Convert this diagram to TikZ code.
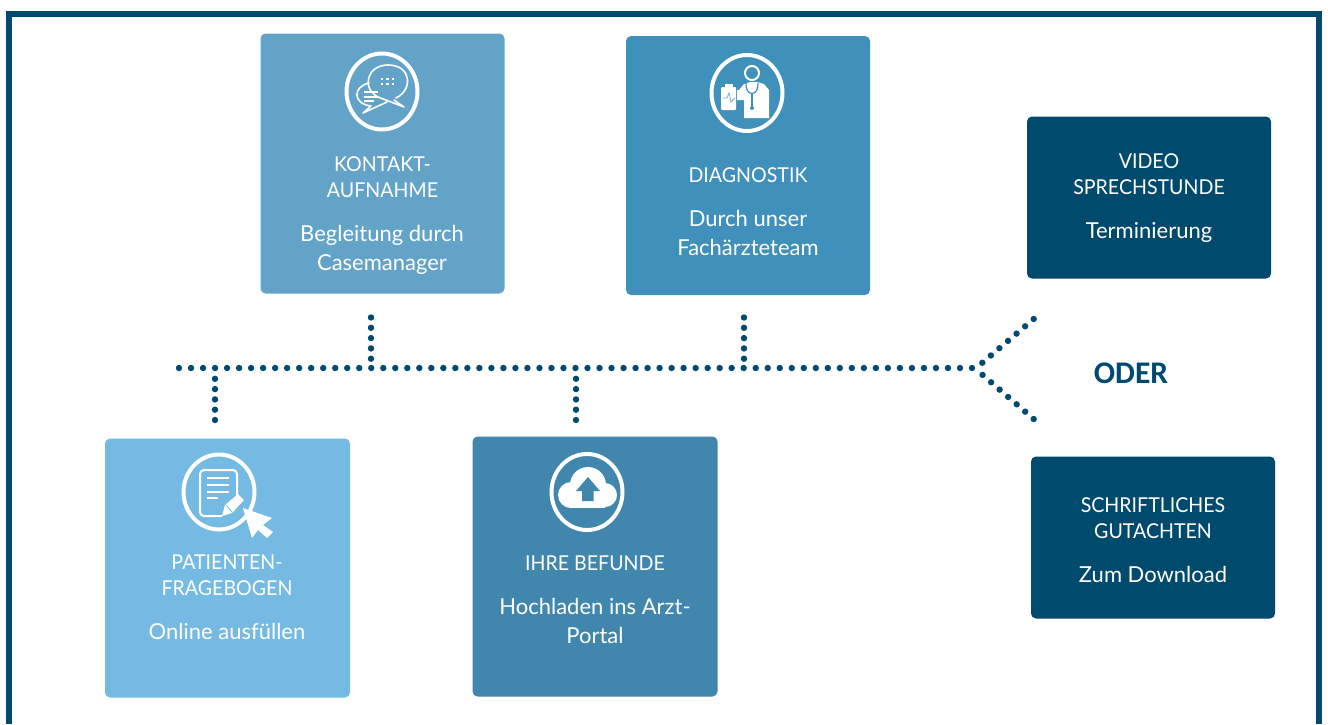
\documentclass[tikz,border=0pt]{standalone}
\usepackage{fontspec}
\setmainfont{Lato}
\newfontfamily\capsfont[FakeStretch=0.955]{Lato}
\newfontfamily\oderfont{Carlito}
\definecolor{navy}{HTML}{004A6F}
\definecolor{boxA}{HTML}{74BAE2}
\definecolor{boxB}{HTML}{63A3C8}
\definecolor{boxC}{HTML}{3F90BA}
\definecolor{boxD}{HTML}{4187AD}
\definecolor{boxE}{HTML}{004A6E}
\tikzset{
 panel/.style={draw=none,rounded corners=5pt,inner sep=0pt},
 lbl/.style={text=white,align=center,font=\fontsize{22}{29}\selectfont,anchor=center,inner sep=0pt},
 caplbl/.style={text=white,align=center,font=\capsfont\fontsize{20.5}{26}\selectfont,anchor=center,inner sep=0pt},
 wht/.style={draw=white,line width=4pt,fill=none},
 thinw/.style={draw=white,line width=1.6pt,fill=none,line cap=round,line join=round},
 hdots/.style={draw=navy,line width=6.4pt,line cap=round,dash pattern=on 0pt off 12.015pt},
 vdots/.style={draw=navy,line width=6.4pt,line cap=round,dash pattern=on 0pt off 10.3pt},
 ddots/.style={draw=navy,line width=6.4pt,line cap=round,dash pattern=on 0pt off 11.25pt},
}
\begin{document}
\begin{tikzpicture}[x=1pt,y=-1pt]
\useasboundingbox (0,0) rectangle (1328,724);
\fill[white] (0,0) rectangle (1328,724);
% frame
\fill[navy] (6,11) rectangle (1322,724);
\fill[white] (12,17) rectangle (1316,724);
% cards
\node[panel,fill=boxA,minimum width=245pt,minimum height=259pt] (pat) at (227.5,568) {};
\node[panel,fill=boxD,minimum width=245pt,minimum height=260pt] (bef) at (595,566.5) {};
\node[panel,fill=boxB,minimum width=244pt,minimum height=260pt] (kon) at (382.5,163.5) {};
\node[panel,fill=boxC,minimum width=244pt,minimum height=259pt] (dia) at (748,165.5) {};
\node[panel,fill=boxE,minimum width=244pt,minimum height=162pt] (vid) at (1149,197.5) {};
\node[panel,fill=boxE,minimum width=244pt,minimum height=162pt] (gut) at (1153,537.5) {};
% texts
\node[caplbl] (t1) at (382.5,177.5) {KONTAKT-\\AUFNAHME};
\node[lbl] (t2) at (382,249.5) {Begleitung durch\\Casemanager};
\node[caplbl] (t3) at (748,175) {DIAGNOSTIK};
\node[lbl] (t4) at (748,233) {Durch unser\\Fachärzteteam};
\node[caplbl] (t5) at (1149,174) {VIDEO\\SPRECHSTUNDE};
\node[lbl] (t6) at (1149,232) {Terminierung};
\node[caplbl] (t7) at (1153,518) {SCHRIFTLICHES\\GUTACHTEN};
\node[lbl] (t8) at (1153,574) {Zum Download};
\node[caplbl] (t9) at (227,575) {PATIENTEN-\\FRAGEBOGEN};
\node[lbl] (t10) at (227,631.5) {Online ausfüllen};
\node[caplbl] (t11) at (595,563) {IHRE BEFUNDE};
\node[lbl] (t12) at (595,620.5) {Hochladen ins Arzt-\\Portal};
\node[text=navy,inner sep=0pt,font=\oderfont\bfseries\fontsize{31.5}{34}\selectfont] (oder) at (1131,373) {ODER};
% icon rings
\draw[wht] (382,91.5) ellipse (35.5pt and 38pt);
\draw[wht] (747,93) ellipse (35.5pt and 38pt);
\draw[wht] (219,492) ellipse (35.5pt and 37.5pt);
\draw[wht] (587,492) ellipse (35.5pt and 38pt);
% chat icon
\draw[thinw] (396,98) .. controls (413,90) and (412,65) .. (388,65) .. controls (367,65) and (361,88) .. (378,97) -- (404,107) -- (394,100);
\draw[thinw] (369,83) .. controls (352,87) and (353,104) .. (371,106) -- (363,113) -- (387,102);
\foreach \x in {382,387.5,393}{\foreach \y in {79,84}{\fill[white] (\x-1.3,\y-1.3) rectangle +(2.6,2.6);}}
\foreach \y/\w in {92/14,96.5/14,101/10}{\draw[white,line width=2pt] (364,\y) -- +(\w,0);}
% doctor icon
\draw[white,line width=2pt] (752,73) circle (7pt);
\fill[white] (739,90) -- (744,84) -- (750,82) -- (757,82) -- (764,84) -- (769,90) -- (769,118) -- (744,118) -- (744,100) -- (737,100) -- (737,90) -- cycle;
\draw[draw=boxC,line width=1.2pt] (746,83) .. controls (745,97) and (759,97) .. (758,83);
\draw[draw=boxC,line width=1.2pt] (752,93) -- (752,107);
\fill[boxC] (752,108) circle (2pt);
\fill[white,rounded corners=1pt] (721,87) rectangle (736,110);
\fill[white] (725,84) rectangle (733,89);
\draw[draw=boxC!70!white,line width=.8pt] (723,98) -- (727,98) -- (729,93) -- (731,102) -- (735,98);
% form icon
\draw[draw=white,line width=2pt,rounded corners=4pt] (237,497) -- (237,470) -- (200,470) -- (200,516) -- (222,516);
\foreach \y/\w in {478/22,485/22,492/22,497.5/11}{\draw[white,line width=2pt] (207,\y) -- +(\w,0);}
\fill[white] (222,516) -- (225,505) -- (238,494) -- (244,500) -- (232,513) -- cycle;
\draw[boxA,line width=0.8pt] (226,505) -- (232,512);
\fill[white] (243,508) -- (272,518) -- (263,525) -- (273,532) -- (267,538) -- (258,530) -- (252,538) -- cycle;
% upload icon
\fill[white] (588,485) circle (18pt);
\fill[white] (571,495) circle (13pt);
\fill[white] (605,495) circle (12pt);
\fill[white] (571,496) rectangle (605,508);
\fill[boxD] (588,477) -- (600,491) -- (593.5,491) -- (593.5,501) -- (582,501) -- (582,491) -- (576,491) -- cycle;
% connectors
\coordinate (a) at (179,368);
\coordinate (j) at (972.5,368);
\coordinate (up0) at (982,363);
\coordinate (up) at (1033.7,319);
\coordinate (dn0) at (982,374.4);
\coordinate (dn) at (1033.7,419);
\coordinate (k0) at (371,358.7);
\coordinate (k1) at (371,317.5);
\coordinate (d0) at (744,358.7);
\coordinate (d1) at (744,317.5);
\coordinate (p0) at (215,378.7);
\coordinate (p1) at (215,420);
\coordinate (b0) at (576,378.7);
\coordinate (b1) at (576,420);
\draw[hdots] (a) -- (j);
\draw[ddots] (up) -- (up0);
\draw[ddots] (dn) -- (dn0);
\draw[vdots] (k1) -- (k0);
\draw[vdots] (d1) -- (d0);
\draw[vdots] (p1) -- (p0);
\draw[vdots] (b1) -- (b0);
\end{tikzpicture}
\end{document}
